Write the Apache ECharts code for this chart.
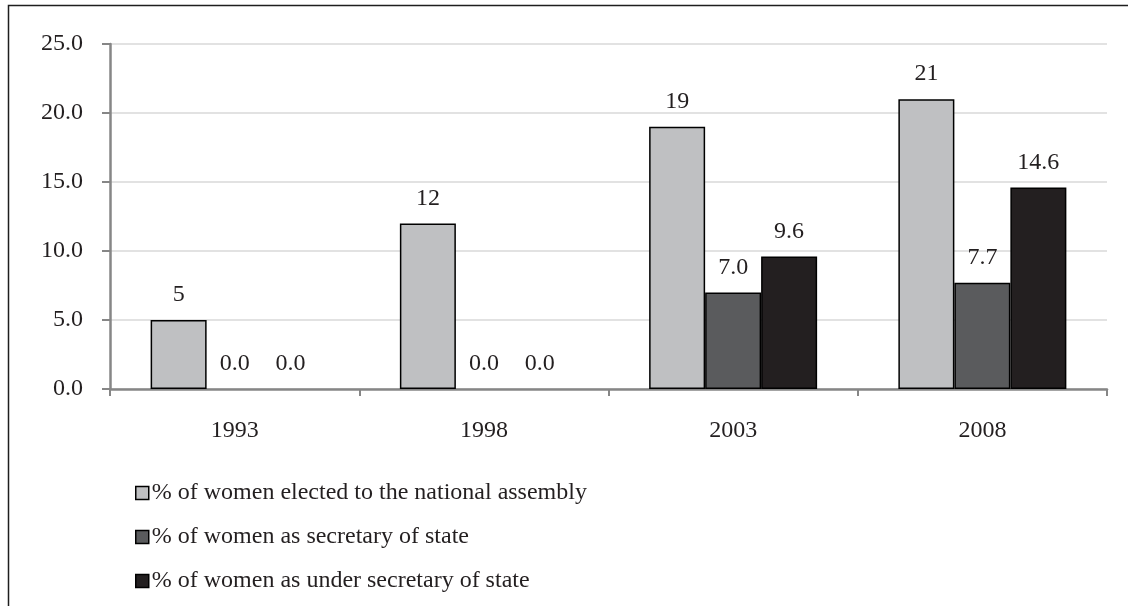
<!DOCTYPE html>
<html>
<head>
<meta charset="utf-8">
<title>Women in politics</title>
<script src="https://cdn.jsdelivr.net/npm/echarts@6/dist/echarts.min.js"></script>
<style>
  html, body { margin: 0; padding: 0; background: #ffffff; }
  #chart { width: 1128px; height: 606px; }
</style>
</head>
<body>
<div id="chart"></div>
<script>
// Election years on the category axis
const years = ['1993', '1998', '2003', '2008'];

// Shares of women (%) per year
const assembly = [5, 12, 19, 21];
const secretary = [0.0, 0.0, 7.0, 7.7];
const underSecretary = [0.0, 0.0, 9.6, 14.6];

const seriesNames = [
  '% of women elected to the national assembly',
  '% of women as secretary of state',
  '% of women as under secretary of state'
];

const yTicks = { min: 0, max: 25, interval: 5 };

const FONT = 'Liberation Serif';
const TEXT = '#231f20';
const fills = ['#bfc0c2', '#5a5b5d', '#231f20'];

// Zero-height bars carry no outline, so the axis line stays clean
function withOutline(values) {
  return values.map(v => v === 0 ? { value: v, itemStyle: { borderWidth: 0 } } : v);
}

function barSeries(name, data, color, fmt) {
  return {
    name: name,
    type: 'bar',
    data: withOutline(data),
    barGap: '0%',
    barCategoryGap: '32.6%',
    itemStyle: { color: color, borderColor: '#000000', borderWidth: 1.5 },
    label: {
      show: true,
      position: 'top',
      distance: 13,
      color: TEXT,
      fontFamily: FONT,
      fontSize: 24,
      formatter: p => fmt(p.value)
    }
  };
}

const chart = echarts.init(document.getElementById('chart'), null, { renderer: 'canvas' });

chart.setOption({
  backgroundColor: '#ffffff',
  animation: false,
  textStyle: { fontFamily: FONT, color: TEXT },
  graphic: [
    {
      type: 'polyline',
      shape: { points: [[8.5, 700], [8.5, 5.5], [1200, 5.5]] },
      style: { stroke: '#1e1e1e', lineWidth: 1.5, fill: null },
      silent: true
    }
  ],
  grid: { left: 110, right: 21, top: 44, bottom: 217, containLabel: false },
  legend: {
    orient: 'vertical',
    left: 130,
    top: 476,
    itemWidth: 13,
    itemHeight: 13,
    itemGap: 20,
    icon: 'rect',
    itemStyle: { borderColor: '#000000', borderWidth: 1.5 },
    textStyle: { fontFamily: FONT, fontSize: 24, color: TEXT, padding: [0, 0, 0, -2] },
    data: seriesNames
  },
  xAxis: {
    type: 'category',
    data: years,
    axisLine: { show: true, lineStyle: { color: '#868686', width: 2.5 } },
    axisTick: { show: true, length: 7, lineStyle: { color: '#868686', width: 2 } },
    axisLabel: { margin: 30, fontFamily: FONT, fontSize: 24, color: TEXT }
  },
  yAxis: {
    type: 'value',
    min: yTicks.min,
    max: yTicks.max,
    interval: yTicks.interval,
    axisLine: { show: true, lineStyle: { color: '#868686', width: 2.5 } },
    axisTick: { show: true, length: 8, lineStyle: { color: '#868686', width: 2 } },
    splitLine: { show: true, lineStyle: { color: '#d9d9d9', width: 1.5 } },
    axisLabel: {
      margin: 27,
      fontFamily: FONT,
      fontSize: 24,
      color: TEXT,
      formatter: v => v.toFixed(1)
    }
  },
  series: [
    barSeries(seriesNames[0], assembly, fills[0], v => String(v)),
    barSeries(seriesNames[1], secretary, fills[1], v => v.toFixed(1)),
    barSeries(seriesNames[2], underSecretary, fills[2], v => v.toFixed(1))
  ]
});
</script>
</body>
</html>
